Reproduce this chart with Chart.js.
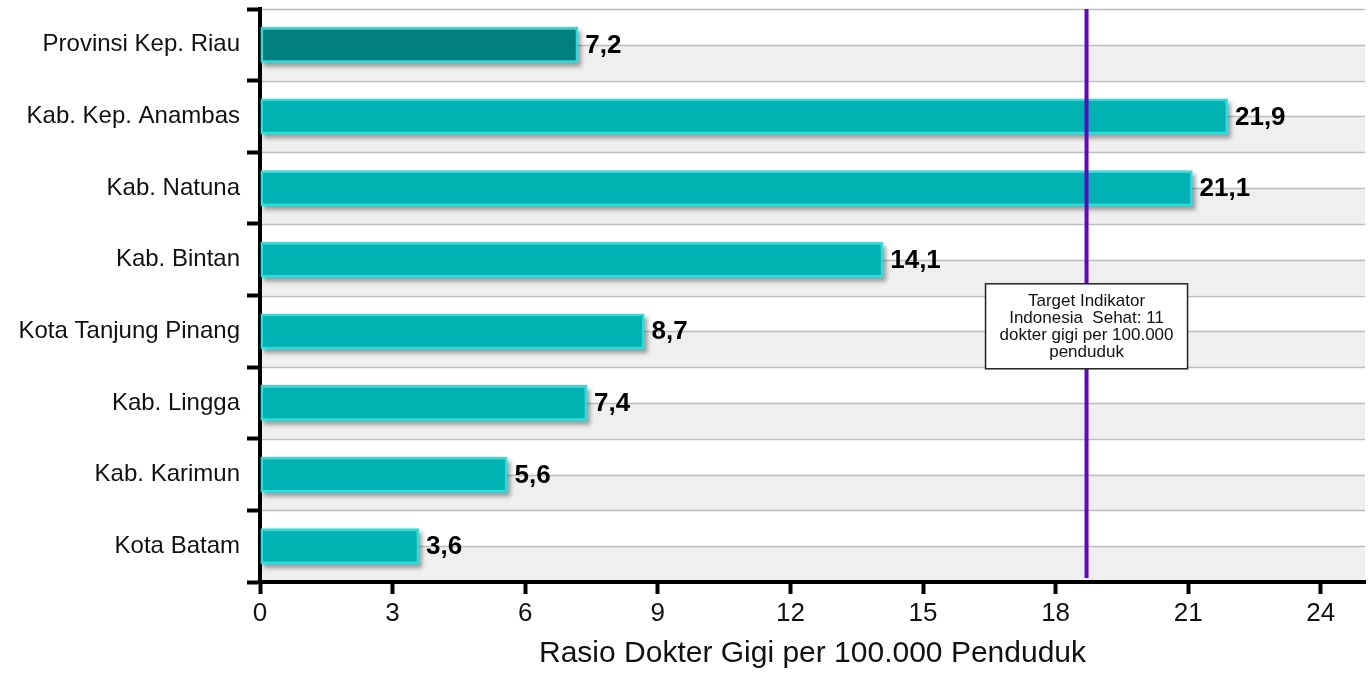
<!DOCTYPE html>
<html>
<head>
<meta charset="utf-8">
<script src="https://cdn.jsdelivr.net/npm/chart.js@4.4.1/dist/chart.umd.min.js"></script>
<style>
  html, body { margin: 0; padding: 0; background: #fff; }
  #wrap { width: 1368px; height: 673px; }
</style>
</head>
<body>
<div id="wrap"><canvas id="rasioChart" width="1368" height="673"></canvas></div>
<script>
// data
const regions = ['Provinsi Kep. Riau', 'Kab. Kep. Anambas', 'Kab. Natuna', 'Kab. Bintan',
                 'Kota Tanjung Pinang', 'Kab. Lingga', 'Kab. Karimun', 'Kota Batam'];
const rasio = [7.2, 21.9, 21.1, 14.1, 8.7, 7.4, 5.6, 3.6];
const xTicks = [0, 3, 6, 9, 12, 15, 18, 21, 24];
const targetLine = 18.7;
const targetText = ['Target Indikator', 'Indonesia  Sehat: 11', 'dokter gigi per 100.000', 'penduduk'];

const FONT = '"Liberation Sans", Arial, Helvetica, sans-serif';

const barFill = rasio.map((v, i) => i === 0 ? '#007f7f' : '#00b3b3');

// bands + light grid behind everything
const bandsPlugin = {
    id: 'bands',
    beforeDraw(chart) {
        const ctx = chart.ctx, area = chart.chartArea, y = chart.scales.y;
        ctx.save();
        ctx.fillStyle = '#fff';
        ctx.fillRect(0, 0, chart.width, chart.height);
        regions.forEach((r, i) => {
            const mid = y.getPixelForValue(i);
            const bot = y.getPixelForValue(i + 0.5);
            ctx.fillStyle = '#efefef';
            ctx.fillRect(area.left, mid, area.right - area.left, bot - mid);
        });
        ctx.strokeStyle = '#bdbdbd';
        ctx.lineWidth = 1.5;
        for (let k = -0.5; k <= regions.length - 0.5; k += 0.5) {
            const py = Math.round(y.getPixelForValue(k)) + 0.5;
            ctx.beginPath();
            ctx.moveTo(area.left, py);
            ctx.lineTo(area.right, py);
            ctx.stroke();
        }
        ctx.restore();
    },
    beforeDatasetDraw(chart, args) {
        // soft drop shadow under each bar
        const ctx = chart.ctx;
        ctx.save();
        ctx.fillStyle = 'rgba(0,0,0,0.35)';
        ctx.filter = 'blur(2px)';
        args.meta.data.forEach(bar => {
            const p = bar.getProps(['x', 'y', 'base', 'height'], true);
            ctx.fillRect(p.base + 3, p.y - p.height / 2 + 4, p.x - p.base, p.height);
        });
        ctx.restore();
    },
    afterDatasetsDraw(chart) {
        const ctx = chart.ctx, area = chart.chartArea;
        const xs = chart.scales.x, ys = chart.scales.y;
        ctx.save();
        // value labels
        ctx.fillStyle = '#000';
        ctx.font = 'bold 26px ' + FONT;
        ctx.textAlign = 'left';
        ctx.textBaseline = 'middle';
        chart.getDatasetMeta(0).data.forEach((bar, i) => {
            const p = bar.getProps(['x', 'y'], true);
            ctx.fillText(rasio[i].toFixed(1).replace('.', ','), p.x + 7, p.y + 1);
        });
        // target line
        const lx = xs.getPixelForValue(targetLine);
        ctx.strokeStyle = '#6005c6';
        ctx.lineWidth = 4;
        ctx.beginPath();
        ctx.moveTo(lx, area.top);
        ctx.lineTo(lx, area.bottom - 4);
        ctx.stroke();
        // annotation box
        const bw = 202, bh = 85;
        const cy = ys.getPixelForValue(3.93);
        const bx = lx - bw / 2, by = cy - bh / 2;
        ctx.fillStyle = '#fff';
        ctx.fillRect(bx, by, bw, bh);
        ctx.strokeStyle = '#222';
        ctx.lineWidth = 1.5;
        ctx.strokeRect(bx, by, bw, bh);
        ctx.fillStyle = '#111';
        ctx.font = '17px ' + FONT;
        ctx.textAlign = 'center';
        targetText.forEach((t, i) => {
            ctx.fillText(t, lx, by + 18 + i * 16.7);
        });
        ctx.restore();
    }
};

const ctx = document.getElementById('rasioChart').getContext('2d');
new Chart(ctx, {
    type: 'bar',
    data: {
        labels: regions,
        datasets: [{
            data: rasio,
            backgroundColor: barFill,
            borderColor: '#1ee3e3',
            borderWidth: 2.5,
            borderSkipped: false,
            barPercentage: 0.5,
            categoryPercentage: 1
        }]
    },
    options: {
        indexAxis: 'y',
        responsive: false,
        animation: false,
        layout: { padding: { top: 9, right: 3, left: 0, bottom: 0 } },
        plugins: { legend: { display: false }, tooltip: { enabled: false } },
        scales: {
            x: {
                min: 0,
                max: 25,
                afterBuildTicks: scale => { scale.ticks = xTicks.map(v => ({ value: v })); },
                afterFit: scale => { scale.height = 91; scale.paddingLeft = 0; scale.paddingRight = 0; },
                grid: { drawOnChartArea: false, drawTicks: true, tickLength: 12, tickWidth: 4, tickColor: '#000' },
                border: { display: true, width: 4, color: '#000' },
                ticks: { color: '#111', padding: 4, font: { family: FONT, size: 26 } },
                title: {
                    display: true,
                    text: 'Rasio Dokter Gigi per 100.000 Penduduk',
                    color: '#111',
                    font: { family: FONT, size: 30 },
                    padding: { top: 0, bottom: 1 }
                }
            },
            y: {
                afterFit: scale => { scale.width = 260; scale.paddingTop = 0; scale.paddingBottom = 0; },
                grid: { offset: true, drawOnChartArea: false, drawTicks: true, tickLength: 13, tickWidth: 4, tickColor: '#000' },
                border: { display: true, width: 4, color: '#000' },
                ticks: { color: '#111', padding: 7, font: { family: FONT, size: 24 } }
            }
        }
    },
    plugins: [bandsPlugin]
});
</script>
</body>
</html>
